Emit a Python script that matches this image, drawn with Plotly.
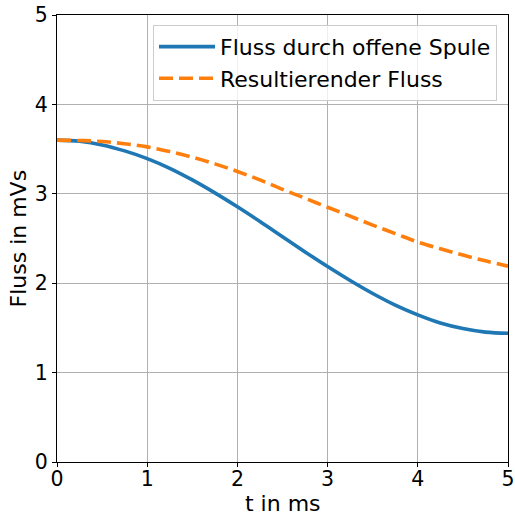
import plotly.graph_objects as go

# Zeit in ms und Fluss in mVs
t_ms = [0.0, 0.25, 0.5, 0.75, 1.0, 1.25, 1.5, 1.75, 2.0, 2.25, 2.5,
        2.75, 3.0, 3.25, 3.5, 3.75, 4.0, 4.25, 4.5, 4.75, 5.0]
fluss_spule = [3.60, 3.587, 3.547, 3.48, 3.394, 3.285, 3.155, 3.01, 2.854, 2.69, 2.52,
               2.35, 2.186, 2.03, 1.885, 1.755, 1.646, 1.555, 1.493, 1.453, 1.44]
fluss_result = [3.60, 3.596, 3.585, 3.56, 3.525, 3.472, 3.41, 3.335, 3.25, 3.155, 3.05,
                2.95, 2.85, 2.75, 2.65, 2.555, 2.46, 2.385, 2.315, 2.25, 2.19]

x_ticks = [0, 1, 2, 3, 4, 5]
y_ticks = [0, 1, 2, 3, 4, 5]

font = "DejaVu Sans"
tick_size = 20.5
text_size = 22

fig = go.Figure()
fig.add_trace(go.Scatter(
    x=t_ms, y=fluss_spule, mode="lines", line_shape="spline",
    name="Fluss durch offene Spule",
    line=dict(color="#1f77b4", width=3.6),
))
fig.add_trace(go.Scatter(
    x=t_ms, y=fluss_result, mode="lines", line_shape="spline",
    name="Resultierender Fluss",
    line=dict(color="#ff7f0e", width=3.6, dash="14px,6px"),
))

axis_common = dict(
    showline=True, linecolor="black", linewidth=1.2, mirror=True,
    ticks="outside", ticklen=4, tickwidth=1.2, tickcolor="black",
    showgrid=True, gridcolor="#b0b0b0", gridwidth=1,
    zeroline=False, automargin=False,
    tickfont=dict(family=font, size=tick_size, color="black"),
)

fig.update_layout(
    width=515, height=516,
    margin=dict(l=57, r=7, t=15, b=54),
    paper_bgcolor="white", plot_bgcolor="white",
    font=dict(family=font, size=text_size, color="black"),
    xaxis=dict(range=[0, 5], tickvals=x_ticks, ticklabelstandoff=-6,
               **axis_common),
    yaxis=dict(range=[0, 5], tickvals=y_ticks, ticklabelstandoff=0,
               **axis_common),
    legend=dict(
        x=0.9756, y=0.978, xanchor="right", yanchor="top",
        bgcolor="rgba(255,255,255,0.8)", bordercolor="#cccccc", borderwidth=1,
        font=dict(family=font, size=text_size, color="black"),
        tracegroupgap=0, itemwidth=56,
    ),
    showlegend=True,
    annotations=[
        dict(text="t in ms", xref="paper", yref="paper",
             x=0.5, y=(462 - 503) / 447, xanchor="center", yanchor="middle",
             showarrow=False, font=dict(family=font, size=text_size, color="black")),
        dict(text="Fluss in mVs", xref="paper", yref="paper", textangle=-90,
             x=(18 - 57) / 451, y=0.5, xanchor="center", yanchor="middle",
             showarrow=False, font=dict(family=font, size=text_size, color="black")),
    ],
)

fig.write_html("out.html")
